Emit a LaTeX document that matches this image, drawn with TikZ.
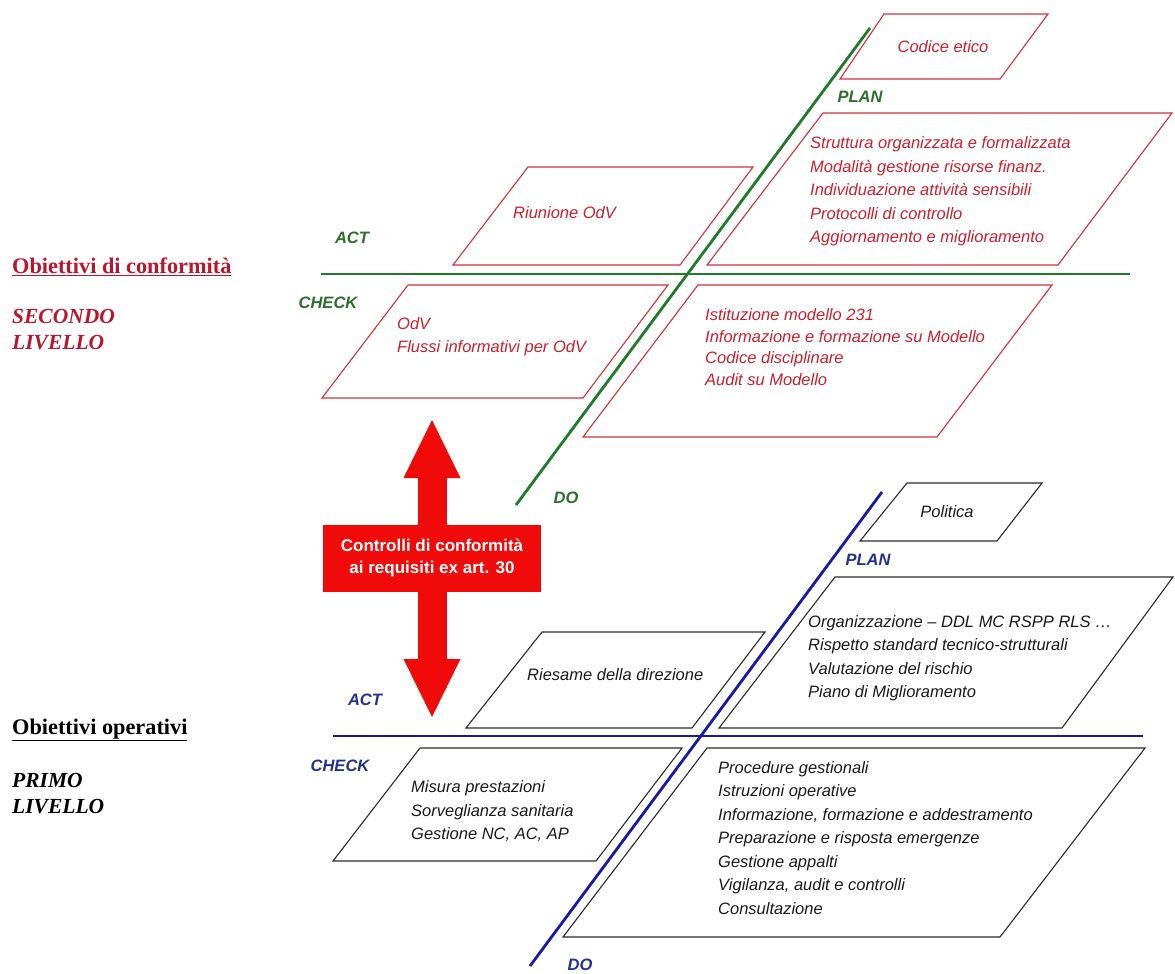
\documentclass[tikz,border=0pt]{standalone}
\usepackage{fontspec}
\setmainfont{Liberation Serif}
\setsansfont{Liberation Sans}
\usepackage{tikz}
\usetikzlibrary{arrows.meta}
\definecolor{titlered}{HTML}{B8162C}
\definecolor{itemred}{HTML}{C8202C}
\definecolor{boxred}{HTML}{D03038}
\definecolor{itemblack}{HTML}{1A1A1A}
\definecolor{boxblack}{HTML}{2A2A2A}
\definecolor{axisgreen}{HTML}{1F7A2A}
\definecolor{labelgreen}{HTML}{2E6E2E}
\definecolor{axisblue}{HTML}{1818A8}
\definecolor{labelblue}{HTML}{23308F}
\definecolor{arrowred}{HTML}{F00A0A}
\tikzset{
  every node/.style={font=\sffamily},
  boxtext/.style={anchor=west, align=left, inner sep=0pt,
    font=\sffamily\itshape\fontsize{16.5}{23.5}\selectfont},
  redtext/.style={boxtext, text=itemred},
  blacktext/.style={boxtext, text=itemblack},
  redbox/.style={draw=boxred, line width=1.1pt, line join=miter},
  blackbox/.style={draw=boxblack, line width=1.1pt, line join=miter},
  greenaxis/.style={draw=axisgreen, line width=2.8pt},
  blueaxis/.style={draw=axisblue, line width=2.8pt},
  phase/.style={inner sep=0pt, font=\sffamily\bfseries\itshape\fontsize{16.5}{20}\selectfont},
  greenphase/.style={phase, text=labelgreen},
  bluephase/.style={phase, text=labelblue},
  leveltitle/.style={anchor=west, inner sep=0pt, font=\rmfamily\bfseries\fontsize{22.3}{26}\selectfont},
  levelname/.style={anchor=west, align=left, inner sep=0pt,
    font=\rmfamily\bfseries\itshape\fontsize{21.5}{26}\selectfont},
  bigarrow/.style={-{Triangle[length=58pt, width=57pt, line width=0pt]}, draw=arrowred, line width=29pt},
  ctrlbox/.style={fill=arrowred, minimum width=218pt, minimum height=67pt, inner sep=0pt,
    align=center, text=white, font=\sffamily\bfseries\fontsize{17}{22}\selectfont}
}

\begin{document}
\begin{tikzpicture}[x=1pt, y=-1pt]
\useasboundingbox (0,0) rectangle (1175,974);

% left titles
\node[leveltitle, text=titlered] (conf) at (12,267) {\underline{Obiettivi di conformità}};
\node[levelname, text=titlered] (second) at (12,330) {SECONDO\\LIVELLO};
\node[leveltitle, text=black] (oper) at (12,730) {\underline{Obiettivi operativi}};
\node[levelname, text=black] (first) at (12,794) {PRIMO\\LIVELLO};

% second level: 231 model
\draw[redbox] (884,14) -- (1048,14) -- (1000,79) -- (840,79) -- cycle;
\draw[redbox] (823,113) -- (1172,113) -- (1058,265) -- (707,265) -- cycle;
\draw[redbox] (528,167) -- (753,167) -- (680,265) -- (453,265) -- cycle;
\draw[redbox] (408,285) -- (668,285) -- (583,398) -- (322,398) -- cycle;
\draw[redbox] (698,285) -- (1052,285) -- (937,437) -- (583,437) -- cycle;

\draw[greenaxis] (321,274) -- (1130,274);
\draw[greenaxis] (516,505) -- (870,28);

\node[greenphase] (gact) at (352,238) {ACT};
\node[greenphase] (gcheck) at (328,303) {CHECK};
\node[greenphase] (gplan) at (860,97) {PLAN};
\node[greenphase] (gdo) at (566,498) {DO};

\node[redtext, anchor=center] (etico) at (943,47) {Codice etico};
\node[redtext] (struttura) at (810,191.5) {Struttura organizzata e formalizzata\\
  Modalità gestione risorse finanz.\\Individuazione attività sensibili\\
  Protocolli di controllo\\Aggiornamento e miglioramento};
\node[redtext] (riunione) at (513,213) {Riunione OdV};
\node[redtext] (odv) at (397,336.5) {OdV\\Flussi informativi per OdV};
\node[redtext, font=\sffamily\itshape\fontsize{16.5}{21.5}\selectfont] (istituzione) at (705,347)
  {Istituzione modello 231\\Informazione e formazione su Modello\\Codice disciplinare\\Audit su Modello};

% compliance checks between the levels
\node[ctrlbox] (ctrl) at (432,558.5) {Controlli di conformità\\ai requisiti ex art. 30};
\coordinate (uptip) at (432,420);
\coordinate (downtip) at (432,717);
\draw[bigarrow] (ctrl.north) -- (uptip);
\draw[bigarrow] (ctrl.south) -- (downtip);

% first level: safety management
\draw[blackbox] (907,483) -- (1042,483) -- (997,541) -- (860,541) -- cycle;
\draw[blackbox] (835,577) -- (1173,577) -- (1062,728) -- (719,728) -- cycle;
\draw[blackbox] (542,632) -- (765,632) -- (692,728) -- (466,728) -- cycle;
\draw[blackbox] (420,748) -- (682,748) -- (596,861) -- (333,861) -- cycle;
\draw[blackbox] (707,748) -- (1145,748) -- (1000,937) -- (563,937) -- cycle;

\draw[blueaxis] (333,736) -- (1143,736);
\draw[blueaxis] (530,966) -- (882,492);

\node[bluephase] (bact) at (365,700) {ACT};
\node[bluephase] (bcheck) at (340,766) {CHECK};
\node[bluephase] (bplan) at (868,560) {PLAN};
\node[bluephase] (bdo) at (580,965) {DO};

\node[blacktext, anchor=center] (politica) at (947,512) {Politica};
\node[blacktext] (organizz) at (808,658) {Organizzazione -- DDL MC RSPP RLS \dots\\
  Rispetto standard tecnico-strutturali\\Valutazione del rischio\\Piano di Miglioramento};
\node[blacktext] (riesame) at (527,675) {Riesame della direzione};
\node[blacktext] (misura) at (411,811.5) {Misura prestazioni\\Sorveglianza sanitaria\\Gestione NC, AC, AP};
\node[blacktext] (procedure) at (718,838) {Procedure gestionali\\Istruzioni operative\\
  Informazione, formazione e addestramento\\Preparazione e risposta emergenze\\
  Gestione appalti\\Vigilanza, audit e controlli\\Consultazione};
\end{tikzpicture}
\end{document}
